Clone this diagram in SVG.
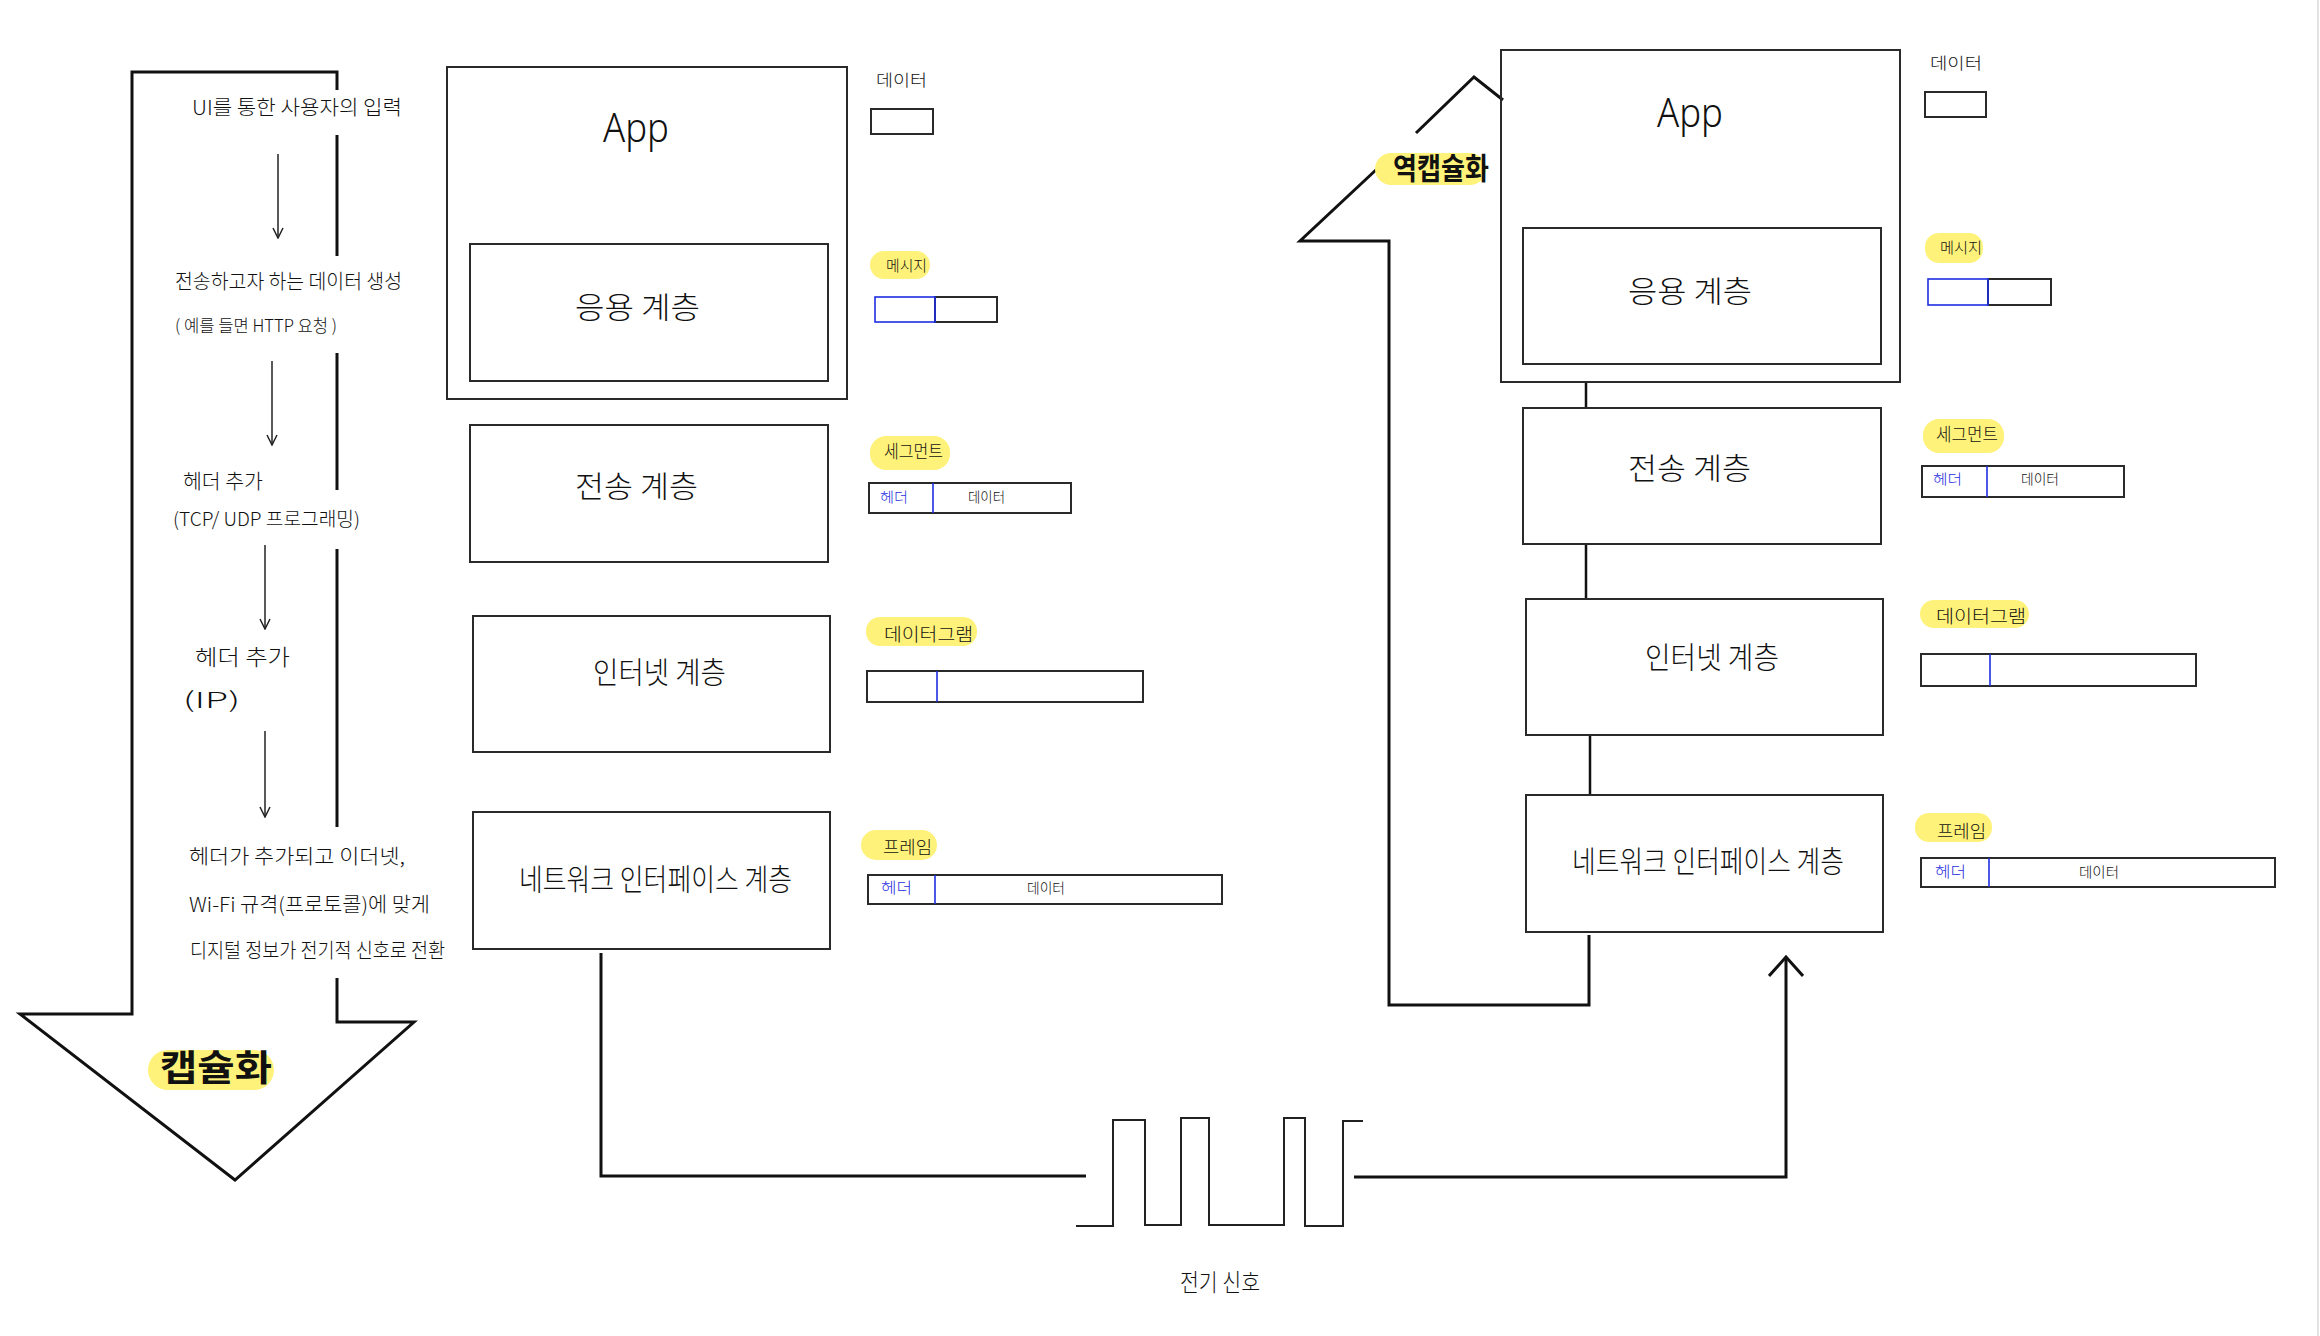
<svg xmlns="http://www.w3.org/2000/svg" width="2320" height="1336" viewBox="0 0 2320 1336">
<style>
.bg{fill:#ffffff}
.box{fill:none;stroke:#2a2a2a;stroke-width:2}
.thick{fill:none;stroke:#111;stroke-width:3;stroke-linejoin:miter}
.conn{fill:none;stroke:#111;stroke-width:2.5}
.wave{fill:none;stroke:#222;stroke-width:2}
.thin{fill:none;stroke:#222;stroke-width:1.5}
.blue{fill:none;stroke:#1f2ee0;stroke-width:1.6}
.hl{fill:#fff27a}
.t{font-family:"Noto Sans CJK KR","Noto Sans",sans-serif;fill:#111;font-weight:300}
.tb{font-family:"Noto Sans CJK KR","Noto Sans",sans-serif;fill:#111;font-weight:bold}
.tblue{font-family:"Noto Sans CJK KR","Noto Sans",sans-serif;fill:#1f2ee0;font-weight:300}
.lat{font-family:"Noto Sans","Liberation Sans",sans-serif;fill:#111;font-weight:300}
</style>
<defs>
<marker id="chev" viewBox="0 0 12 12" refX="11" refY="6" markerWidth="12" markerHeight="12" markerUnits="userSpaceOnUse" orient="auto">
<path d="M1,1 L11,6 L1,11" fill="none" stroke="#222" stroke-width="1.5"/>
</marker>
<marker id="big" viewBox="0 0 22 36" refX="20" refY="18" markerWidth="22" markerHeight="36" markerUnits="userSpaceOnUse" orient="auto">
<path d="M1,1 L20,18 L1,35" fill="none" stroke="#111" stroke-width="3"/>
</marker>
</defs>
<rect class="bg" x="0" y="0" width="2320" height="1336"/>
<line x1="2318" y1="0" x2="2318" y2="1336" stroke="#e2e2e2" stroke-width="2"/>

<!-- Encapsulation arrow (left) -->
<g id="encap-arrow">
<path class="thick" d="M337,90 V72 H132 V1014 H20 L235,1180 L414,1022 H337 V978"/>
<path class="thick" d="M337,135 V256 M337,353 V490 M337,549 V827"/>
<rect class="hl" x="148" y="1050" width="126" height="40" rx="20"/>
<text class="tb" x="160" y="1081" font-size="36" textLength="112" lengthAdjust="spacingAndGlyphs">캡슐화</text>
</g>

<g id="encap-steps">
<text class="t" x="192" y="115" font-size="20" textLength="210" lengthAdjust="spacingAndGlyphs">UI를 통한 사용자의 입력</text>
<text class="t" x="175" y="289" font-size="20" textLength="227" lengthAdjust="spacingAndGlyphs">전송하고자 하는 데이터 생성</text>
<text class="t" x="175" y="332" font-size="17" textLength="162" lengthAdjust="spacingAndGlyphs">( 예를 들면 HTTP 요청 )</text>
<text class="t" x="183" y="489" font-size="20" textLength="80" lengthAdjust="spacingAndGlyphs">헤더 추가</text>
<text class="t" x="173" y="526" font-size="19" textLength="187" lengthAdjust="spacingAndGlyphs">(TCP/ UDP 프로그래밍)</text>
<text class="t" x="195" y="665" font-size="22" textLength="95" lengthAdjust="spacingAndGlyphs">헤더 추가</text>
<text class="t" x="183" y="708" font-size="22" textLength="57" lengthAdjust="spacingAndGlyphs">(IP)</text>
<text class="t" x="189" y="864" font-size="20" textLength="216" lengthAdjust="spacingAndGlyphs">헤더가 추가되고 이더넷,</text>
<text class="t" x="189" y="912" font-size="20" textLength="241" lengthAdjust="spacingAndGlyphs">Wi-Fi 규격(프로토콜)에 맞게</text>
<text class="t" x="190" y="958" font-size="20" textLength="255" lengthAdjust="spacingAndGlyphs">디지털 정보가 전기적 신호로 전환</text>
</g>

<g id="connectors">
<line class="thin" x1="278" y1="154" x2="278" y2="238" marker-end="url(#chev)"/>
<line class="thin" x1="272" y1="361" x2="272" y2="445" marker-end="url(#chev)"/>
<line class="thin" x1="265" y1="545" x2="265" y2="629" marker-end="url(#chev)"/>
<line class="thin" x1="265" y1="731" x2="265" y2="817" marker-end="url(#chev)"/>
<path class="thick" d="M601,953 V1176 H1086"/>
<path class="thick" d="M1354,1177 H1786 V957" marker-end="url(#big)"/>
<path class="conn" d="M1586,382 V408 M1586,544 V599 M1590,735 V795"/>
</g>

<!-- Decapsulation arrow (right) -->
<g id="decap-arrow">
<path class="thick" d="M1589,935 V1005 H1389 V241 H1300 L1378,168 M1416,133 L1474,77 L1503,100"/>
<rect class="hl" x="1375" y="153" width="111" height="32" rx="16"/>
<text class="tb" x="1393" y="179" font-size="30" textLength="96" lengthAdjust="spacingAndGlyphs">역캡슐화</text>
</g>

<!-- Left stack -->
<g id="app-left">
<rect class="box" x="447" y="67" width="400" height="332"/>
<text class="lat" x="603" y="142" font-size="40" textLength="66" lengthAdjust="spacingAndGlyphs">App</text>
</g>
<g id="application-left">
<rect class="box" x="470" y="244" width="358" height="137"/>
<text class="t" x="575" y="318" font-size="30" textLength="125" lengthAdjust="spacingAndGlyphs">응용 계층</text>
</g>
<g id="transport-left">
<rect class="box" x="470" y="425" width="358" height="137"/>
<text class="t" x="575" y="497" font-size="30" textLength="123" lengthAdjust="spacingAndGlyphs">전송 계층</text>
</g>
<g id="internet-left">
<rect class="box" x="473" y="616" width="357" height="136"/>
<text class="t" x="593" y="683" font-size="30" textLength="133" lengthAdjust="spacingAndGlyphs">인터넷 계층</text>
</g>
<g id="netif-left">
<rect class="box" x="473" y="812" width="357" height="137"/>
<text class="t" x="519" y="890" font-size="30" textLength="273" lengthAdjust="spacingAndGlyphs">네트워크 인터페이스 계층</text>
</g>

<!-- Left PDUs -->
<g id="pdu-data-left">
<text class="t" x="876" y="86" font-size="16" textLength="51" lengthAdjust="spacingAndGlyphs">데이터</text>
<rect class="box" x="871" y="109" width="62" height="25"/>
</g>
<g id="pdu-message-left">
<rect class="hl" x="870" y="251" width="60" height="28" rx="14"/>
<text class="t" x="886" y="271" font-size="15" textLength="41" lengthAdjust="spacingAndGlyphs">메시지</text>
<rect class="box" x="935" y="297" width="62" height="25"/>
<rect class="blue" x="875" y="297" width="60" height="25"/>
</g>
<g id="pdu-segment-left">
<rect class="hl" x="870" y="436" width="80" height="34" rx="16"/>
<text class="t" x="884" y="458" font-size="18" textLength="59" lengthAdjust="spacingAndGlyphs">세그먼트</text>
<rect class="box" x="869" y="483" width="202" height="30"/>
<line class="blue" x1="933" y1="483" x2="933" y2="513"/>
<text class="tblue" x="880" y="502" font-size="14" textLength="28" lengthAdjust="spacingAndGlyphs">헤더</text>
<text class="t" x="968" y="502" font-size="14" textLength="37" lengthAdjust="spacingAndGlyphs">데이터</text>
</g>
<g id="pdu-datagram-left">
<rect class="hl" x="866" y="617" width="111" height="29" rx="14"/>
<text class="t" x="884" y="641" font-size="18" textLength="89" lengthAdjust="spacingAndGlyphs">데이터그램</text>
<rect class="box" x="867" y="671" width="276" height="31"/>
<line class="blue" x1="937" y1="671" x2="937" y2="702"/>
</g>
<g id="pdu-frame-left">
<rect class="hl" x="861" y="830" width="76" height="30" rx="15"/>
<text class="t" x="883" y="854" font-size="18" textLength="49" lengthAdjust="spacingAndGlyphs">프레임</text>
<rect class="box" x="868" y="875" width="354" height="29"/>
<line class="blue" x1="935" y1="875" x2="935" y2="904"/>
<text class="tblue" x="881" y="893" font-size="15" textLength="31" lengthAdjust="spacingAndGlyphs">헤더</text>
<text class="t" x="1027" y="893" font-size="14" textLength="38" lengthAdjust="spacingAndGlyphs">데이터</text>
</g>

<!-- Signal -->
<g id="signal">
<path class="wave" d="M1076,1226 H1113 V1120 H1145 V1225 H1181 V1118 H1209 V1225 H1284 V1118 H1305 V1226 H1343 V1121 H1363"/>
<text class="t" x="1180" y="1291" font-size="24" textLength="80" lengthAdjust="spacingAndGlyphs">전기 신호</text>
</g>

<!-- Right stack -->
<g id="app-right">
<rect class="box" x="1501" y="50" width="399" height="332"/>
<text class="lat" x="1657" y="127" font-size="40" textLength="66" lengthAdjust="spacingAndGlyphs">App</text>
</g>
<g id="application-right">
<rect class="box" x="1523" y="228" width="358" height="136"/>
<text class="t" x="1628" y="302" font-size="30" textLength="124" lengthAdjust="spacingAndGlyphs">응용 계층</text>
</g>
<g id="transport-right">
<rect class="box" x="1523" y="408" width="358" height="136"/>
<text class="t" x="1628" y="479" font-size="30" textLength="123" lengthAdjust="spacingAndGlyphs">전송 계층</text>
</g>
<g id="internet-right">
<rect class="box" x="1526" y="599" width="357" height="136"/>
<text class="t" x="1645" y="668" font-size="30" textLength="134" lengthAdjust="spacingAndGlyphs">인터넷 계층</text>
</g>
<g id="netif-right">
<rect class="box" x="1526" y="795" width="357" height="137"/>
<text class="t" x="1572" y="872" font-size="30" textLength="272" lengthAdjust="spacingAndGlyphs">네트워크 인터페이스 계층</text>
</g>

<!-- Right PDUs -->
<g id="pdu-data-right">
<text class="t" x="1930" y="69" font-size="16" textLength="52" lengthAdjust="spacingAndGlyphs">데이터</text>
<rect class="box" x="1925" y="92" width="61" height="25"/>
</g>
<g id="pdu-message-right">
<rect class="hl" x="1925" y="233" width="58" height="30" rx="14"/>
<text class="t" x="1940" y="253" font-size="15" textLength="42" lengthAdjust="spacingAndGlyphs">메시지</text>
<rect class="box" x="1988" y="279" width="63" height="26"/>
<rect class="blue" x="1928" y="279" width="60" height="26"/>
</g>
<g id="pdu-segment-right">
<rect class="hl" x="1923" y="419" width="81" height="34" rx="16"/>
<text class="t" x="1936" y="441" font-size="18" textLength="62" lengthAdjust="spacingAndGlyphs">세그먼트</text>
<rect class="box" x="1922" y="466" width="202" height="31"/>
<line class="blue" x1="1987" y1="466" x2="1987" y2="497"/>
<text class="tblue" x="1933" y="484" font-size="14" textLength="29" lengthAdjust="spacingAndGlyphs">헤더</text>
<text class="t" x="2021" y="484" font-size="14" textLength="38" lengthAdjust="spacingAndGlyphs">데이터</text>
</g>
<g id="pdu-datagram-right">
<rect class="hl" x="1920" y="600" width="109" height="28" rx="14"/>
<text class="t" x="1936" y="623" font-size="18" textLength="90" lengthAdjust="spacingAndGlyphs">데이터그램</text>
<rect class="box" x="1921" y="654" width="275" height="32"/>
<line class="blue" x1="1990" y1="654" x2="1990" y2="686"/>
</g>
<g id="pdu-frame-right">
<rect class="hl" x="1915" y="813" width="77" height="29" rx="14"/>
<text class="t" x="1937" y="838" font-size="18" textLength="49" lengthAdjust="spacingAndGlyphs">프레임</text>
<rect class="box" x="1921" y="858" width="354" height="29"/>
<line class="blue" x1="1989" y1="858" x2="1989" y2="887"/>
<text class="tblue" x="1935" y="877" font-size="15" textLength="31" lengthAdjust="spacingAndGlyphs">헤더</text>
<text class="t" x="2079" y="877" font-size="14" textLength="40" lengthAdjust="spacingAndGlyphs">데이터</text>
</g>
</svg>
